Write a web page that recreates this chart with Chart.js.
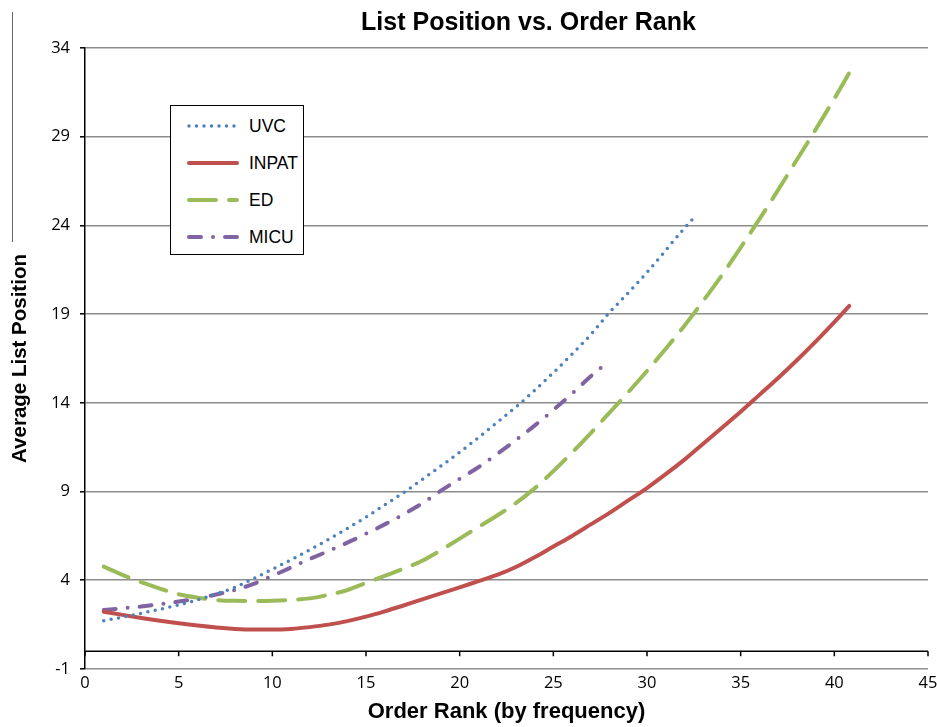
<!DOCTYPE html>
<html>
<head>
<meta charset="utf-8">
<title>List Position vs. Order Rank</title>
<script src="https://cdn.jsdelivr.net/npm/chart.js@4.4.1/dist/chart.umd.min.js"></script>
<style>
  html, body { margin: 0; padding: 0; background: #fff; }
  #wrap { position: relative; width: 937px; height: 727px; overflow: hidden; }
  #edge { position: absolute; left: 12px; top: 12px; width: 0; height: 230px; border-left: 1px solid #666; }
  #legend {
    position: absolute; left: 170px; top: 105px; width: 132px; height: 148px;
    border: 1.5px solid #000; background: #fff;
    font-family: "Liberation Sans", Arial, sans-serif; font-size: 17.5px; color: #000;
  }
  #legend .row { position: absolute; left: 0; height: 20px; display: flex; align-items: center; }
  #legend svg { margin-left: 16px; margin-right: 10px; }
</style>
</head>
<body>
<div id="wrap">
  <canvas id="chart" width="937" height="727"></canvas>
  <div id="edge"></div>
  <div id="legend"></div>
</div>
<script>
const seriesNames = ['UVC', 'INPAT', 'ED', 'MICU'];
const seriesColors = ['#4F81BD', '#C0504D', '#9BBB59', '#8064A2'];

const ranks = [1, 2, 3, 4, 5, 6, 7, 8, 9, 10, 11, 12, 13, 14, 15, 16, 17, 18, 19, 20,
  21, 22, 23, 24, 25, 26, 27, 28, 29, 30, 31, 32, 33, 34, 35, 36, 37, 38, 39, 40];

// last point of each trend line sits between whole ranks
const lastRanks = [32.6, 40.8, 40.8, 27.6];

const uvcValues = [1.72, 1.92, 2.14, 2.37, 2.61, 2.90, 3.24, 3.60, 4.10, 4.62,
  5.16, 5.72, 6.30, 6.92, 7.56, 8.25, 8.94, 9.68, 10.44, 11.22,
  12.04, 12.90, 13.76, 14.70, 15.70, 16.75, 17.85, 19.1, 20.2, 21.35,
  22.6, 23.85, 24.54];

const inpatValues = [2.23, 2.05, 1.88, 1.72, 1.58, 1.45, 1.34, 1.26, 1.22, 1.22,
  1.26, 1.36, 1.50, 1.70, 1.95, 2.25, 2.58, 2.92, 3.26, 3.6,
  3.95, 4.3, 4.75, 5.3, 5.9, 6.5, 7.15, 7.8, 8.5, 9.2,
  9.98, 10.8, 11.7, 12.6, 13.5, 14.45, 15.4, 16.4, 17.45, 18.55,
  19.46];

const edValues = [4.77, 4.30, 3.89, 3.53, 3.21, 3.02, 2.89, 2.84, 2.83, 2.85,
  2.9, 2.98, 3.18, 3.45, 3.85, 4.25, 4.65, 5.1, 5.7, 6.35,
  7.0, 7.65, 8.35, 9.18, 10.15, 11.2, 12.3, 13.45, 14.6, 15.8,
  17.05, 18.35, 19.75, 21.2, 22.75, 24.35, 26.0, 27.7, 29.4, 31.15,
  32.6];

const micuValues = [2.33, 2.42, 2.52, 2.65, 2.80, 2.98, 3.2, 3.45, 3.8, 4.25,
  4.72, 5.2, 5.65, 6.12, 6.62, 7.15, 7.72, 8.33, 9.05, 9.72,
  10.37, 11.12, 11.9, 12.72, 13.6, 14.52, 15.5, 16.04];

const xTicks = [0, 5, 10, 15, 20, 25, 30, 35, 40, 45];
const yTicks = [-1, 4, 9, 14, 19, 24, 29, 34];

const allValues = [uvcValues, inpatValues, edValues, micuValues];

const lineStyles = [
  { borderWidth: 3.5, borderDash: [0, 7.5], borderCapStyle: 'round' },
  { borderWidth: 4, borderDash: [], borderCapStyle: 'round' },
  { borderWidth: 4, borderDash: [27, 13], borderCapStyle: 'round' },
  { borderWidth: 4, borderDash: [12, 12, 0, 12], borderCapStyle: 'round' },
];

function toPoints(values, lastRank) {
  return values.map((v, i) => ({
    x: i < values.length - 1 ? ranks[i] : lastRank,
    y: v,
  }));
}

const datasets = allValues.map((values, i) => ({
  label: seriesNames[i],
  data: toPoints(values, lastRanks[i]),
  borderColor: seriesColors[i],
  backgroundColor: seriesColors[i],
  borderWidth: lineStyles[i].borderWidth,
  borderDash: lineStyles[i].borderDash,
  borderCapStyle: lineStyles[i].borderCapStyle,
  borderJoinStyle: 'round',
  pointRadius: 0,
  cubicInterpolationMode: 'monotone',
  fill: false,
}));

// the horizontal axis line crosses at 0, with its tick marks hanging below it
const zeroAxis = {
  id: 'zeroAxis',
  afterLayout(chart) {
    // the title in the original sits a little right of the plot centre
    chart.titleBlock.left += 22;
    chart.titleBlock.right += 22;
  },
  beforeDatasetsDraw(chart) {
    const { ctx, chartArea, scales } = chart;
    const y0 = scales.y.getPixelForValue(0);
    ctx.save();
    ctx.strokeStyle = '#000';
    ctx.lineWidth = 1.5;
    ctx.beginPath();
    ctx.moveTo(chartArea.left, y0);
    ctx.lineTo(chartArea.right, y0);
    xTicks.forEach((t) => {
      const px = scales.x.getPixelForValue(t);
      ctx.moveTo(px, y0);
      ctx.lineTo(px, y0 + 5);
    });
    ctx.stroke();
    ctx.restore();
  },
};

const titleFont = '"Liberation Sans", Arial, sans-serif';
const tickFont = '"Open Sans", "Liberation Sans", sans-serif';

new Chart(document.getElementById('chart'), {
  type: 'line',
  data: { datasets },
  plugins: [zeroAxis],
  options: {
    responsive: false,
    animation: false,
    layout: { padding: { left: 0, right: 9, top: 0, bottom: 0 } },
    plugins: {
      legend: { display: false },
      tooltip: { enabled: false },
      title: {
        display: true,
        text: 'List Position vs. Order Rank',
        fullSize: false,
        color: '#000',
        font: { family: titleFont, size: 25, weight: 'bold' },
        padding: { top: 8, bottom: 10 },
      },
    },
    scales: {
      x: {
        type: 'linear',
        min: 0,
        max: 45,
        afterBuildTicks: (axis) => { axis.ticks = xTicks.map((v) => ({ value: v })); },
        afterFit: (axis) => {
          axis.height = 58;
          axis.paddingLeft = 0;
          axis.paddingRight = 0;
        },
        grid: { display: false, drawTicks: false },
        border: { display: false },
        ticks: { color: '#000', padding: 4, font: { family: tickFont, size: 16.5 } },
        title: {
          display: true,
          text: 'Order Rank (by frequency)',
          color: '#000',
          font: { family: titleFont, size: 22, weight: 'bold' },
          padding: { top: 2, bottom: 2 },
        },
      },
      y: {
        type: 'linear',
        min: -1,
        max: 34,
        afterBuildTicks: (axis) => { axis.ticks = yTicks.map((v) => ({ value: v })); },
        afterFit: (axis) => { axis.width = 85; },
        grid: { color: '#8C8C8C', lineWidth: 1.6, tickLength: 5, tickColor: '#000', tickWidth: 1.5 },
        border: { display: true, color: '#000', width: 1.5 },
        ticks: { color: '#000', padding: 10, font: { family: tickFont, size: 16.5 } },
        title: {
          display: true,
          text: 'Average List Position',
          color: '#000',
          font: { family: titleFont, size: 20.5, weight: 'bold' },
          padding: { top: 8, bottom: 4 },
        },
      },
    },
  },
});

// legend box inside the plot, drawn with the same line styles
const legendBox = document.getElementById('legend');
const rowTops = [10, 47, 84, 121];
seriesNames.forEach((name, i) => {
  const row = document.createElement('div');
  row.className = 'row';
  row.style.top = rowTops[i] + 'px';
  const dash = lineStyles[i].borderDash.join(' ');
  row.innerHTML =
    '<svg width="52" height="10"><line x1="2" y1="5" x2="50" y2="5" stroke="' + seriesColors[i] +
    '" stroke-width="' + lineStyles[i].borderWidth + '" stroke-linecap="round"' +
    (dash ? ' stroke-dasharray="' + dash + '"' : '') + '/></svg><span>' + name + '</span>';
  legendBox.appendChild(row);
});
</script>
</body>
</html>
